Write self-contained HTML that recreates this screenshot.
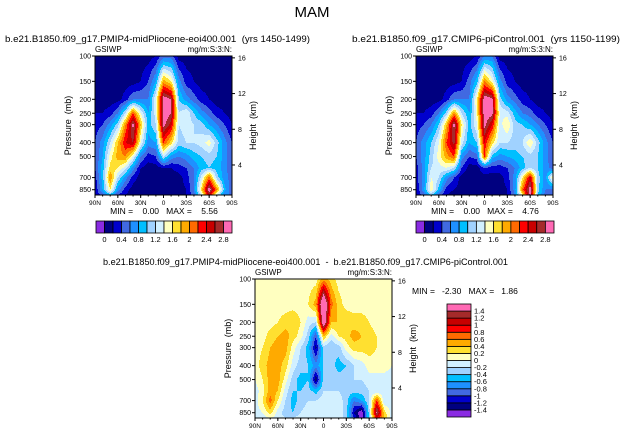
<!DOCTYPE html>
<html><head><meta charset="utf-8">
<style>
html,body{margin:0;padding:0;background:#fff;}
svg{display:block;font-family:"Liberation Sans",sans-serif;}
text{white-space:pre;}
</style></head>
<body>
<svg id="fig" width="624" height="435" viewBox="0 0 624 435" xmlns="http://www.w3.org/2000/svg">
<text x="312" y="17" text-anchor="middle" font-size="15">MAM</text>
</svg>
<script>
// ---- data ----
const lats = [90,80,70,60,50,40,30,20,10,0,-10,-20,-30,-40,-50,-60,-70,-80,-90];
const levels = [100,150,200,250,300,400,500,600,700,850,925];
const fieldPlio = [
[0.1,0.1,0.1,0.1,0.1,0.1,0.1,0.1,0.2,0.5,0.5,0.1,0.1,0.1,0.1,0.1,0.1,0.1,0.1],
[0.1,0.1,0.1,0.1,0.1,0.1,0.2,0.4,0.8,1.9,1.6,0.7,0.3,0.2,0.1,0.1,0.1,0.1,0.1],
[0.1,0.1,0.1,0.1,0.3,0.6,0.6,0.6,1.4,3.0,2.8,1.0,0.7,0.5,0.3,0.2,0.1,0.1,0.1],
[0.2,0.2,0.3,0.6,1.2,2.2,1.4,0.8,1.3,3.0,2.8,1.2,1.4,1.0,0.7,0.5,0.3,0.2,0.1],
[0.3,0.4,0.7,1.1,2.0,2.9,1.8,0.9,1.2,2.9,2.5,1.2,1.3,1.2,1.1,0.8,0.6,0.4,0.2],
[0.4,0.7,1.2,1.8,2.4,2.6,1.4,0.7,0.8,2.2,1.7,1.1,1.2,1.2,1.3,1.5,1.1,0.7,0.4],
[0.4,0.8,1.5,1.9,2.0,1.4,0.6,0.3,0.4,1.2,0.7,0.6,0.7,0.9,1.0,1.1,1.0,0.7,0.4],
[0.4,0.9,1.7,1.6,1.3,0.7,0.2,0.1,0.1,0.2,0.2,0.3,0.4,0.6,0.9,1.0,0.9,0.7,0.4],
[0.3,0.9,2.0,1.2,0.7,0.3,0.1,0.1,0.1,0.1,0.1,0.1,0.3,0.6,1.3,2.1,1.1,0.7,0.5],
[0.2,0.8,1.6,0.7,0.3,0.1,0.1,0.1,0.1,0.1,0.1,0.1,0.2,0.6,1.7,3.0,2.0,0.9,0.4],
[0.2,0.5,0.9,0.4,0.2,0.1,0.1,0.1,0.1,0.1,0.1,0.1,0.2,0.5,1.3,2.6,1.3,0.6,0.6]];
const fieldPI = [
[0.1,0.1,0.1,0.1,0.1,0.1,0.1,0.1,0.2,0.6,0.6,0.1,0.1,0.1,0.1,0.1,0.1,0.1,0.1],
[0.1,0.1,0.1,0.1,0.1,0.1,0.2,0.5,0.9,2.0,1.5,0.7,0.3,0.2,0.1,0.1,0.1,0.1,0.1],
[0.1,0.1,0.1,0.1,0.3,0.6,0.6,0.6,1.6,3.0,2.9,1.1,0.7,0.5,0.3,0.2,0.1,0.1,0.1],
[0.2,0.2,0.3,0.6,1.1,2.0,1.2,0.8,1.5,3.0,2.9,1.4,1.3,0.9,0.6,0.5,0.3,0.2,0.1],
[0.3,0.4,0.6,1.0,1.8,2.9,1.6,0.9,1.4,2.9,2.4,1.3,1.6,1.1,1.0,0.8,0.6,0.4,0.2],
[0.4,0.7,1.0,1.4,2.2,2.7,1.3,0.8,1.0,2.4,1.7,1.2,1.2,1.1,1.2,1.6,1.1,0.7,0.4],
[0.4,0.7,1.1,1.5,1.9,2.2,0.7,0.4,0.5,2.2,0.9,0.7,0.8,0.9,1.0,1.1,1.0,0.7,0.4],
[0.3,0.7,1.2,1.3,1.4,1.2,0.4,0.1,0.1,0.4,0.3,0.3,0.4,0.6,0.9,1.2,1.0,0.7,0.5],
[0.3,0.7,1.4,1.2,0.7,0.4,0.1,0.1,0.1,0.1,0.1,0.1,0.3,0.7,1.6,2.5,1.1,0.7,1.6],
[0.2,0.7,1.6,0.9,0.3,0.2,0.1,0.1,0.1,0.1,0.1,0.1,0.2,0.7,2.1,3.0,1.1,0.6,0.5],
[0.2,0.5,1.0,0.5,0.2,0.1,0.1,0.1,0.1,0.1,0.1,0.1,0.2,0.6,1.6,2.9,1.0,0.5,0.4]];
const fieldDiff = [
[0.1,0.1,0.1,0.1,0.1,0.1,0.1,0.1,0.1,0.5,0.3,0.1,0.1,0.1,0.1,0.1,0.1,0.1,0.1],
[0.1,0.1,0.1,0.1,0.1,0.1,0.1,0.2,0.5,2.0,0.7,0.3,0.1,0.1,0.1,0.1,0.1,0.1,0.1],
[0.1,0.1,0.1,0.2,0.3,0.4,0.2,-0.1,-0.2,1.8,0.4,0.4,0.4,0.3,0.3,0.2,0.1,0.1,0.1],
[0.1,0.1,0.3,0.4,0.5,0.3,0.1,-0.3,-1.0,0.4,-0.1,0.2,0.3,0.5,0.4,0.3,0.2,0.1,0.1],
[0.1,0.2,0.4,0.5,0.5,0.1,-0.2,-0.5,-1.3,-0.3,-0.4,-0.3,0.1,0.3,0.3,0.3,0.2,0.1,0.1],
[0.1,0.3,0.5,0.5,0.3,-0.1,-0.3,-0.4,-0.7,-0.4,-0.3,-0.5,-0.4,-0.2,-0.1,0.1,0.1,0.1,0.0],
[0.0,0.2,0.5,0.5,0.1,-0.3,-0.5,-0.4,-1.4,-0.3,-0.2,-0.3,-0.3,-0.2,-0.2,-0.1,-0.1,-0.1,-0.1],
[-0.1,0.1,0.5,0.4,-0.1,-0.4,-0.4,-0.3,-0.5,-0.2,-0.2,-0.2,-0.3,-0.3,-0.3,-0.2,-0.2,-0.1,-0.1],
[-0.1,0.2,0.7,0.2,-0.2,-0.5,-0.3,-0.2,-0.2,-0.1,-0.1,-0.1,-0.3,-0.8,-0.6,-0.2,0.8,-0.2,-0.1],
[-0.1,0.0,0.3,-0.1,-0.3,-0.4,-0.2,-0.1,-0.1,-0.1,-0.1,-0.1,-0.3,-1.2,-1.6,-0.3,1.5,0.3,-0.1],
[-0.1,-0.1,0.0,-0.1,-0.2,-0.2,-0.1,-0.1,-0.1,-0.1,-0.1,-0.1,-0.3,-1.0,-1.6,-0.3,1.0,0.4,-0.1]];
const absLevels = [0,0.2,0.4,0.6,0.8,1.0,1.2,1.4,1.6,1.8,2.0,2.2,2.4,2.6,2.8];
const absLabels = ["0","0.4","0.8","1.2","1.6","2","2.4","2.8"];
const diffLevels = [-1.4,-1.2,-1,-0.8,-0.6,-0.4,-0.2,0,0.2,0.4,0.6,0.8,1,1.2,1.4];
const diffLabels = ["-1.4","-1.2","-1","-0.8","-0.6","-0.4","-0.2","0","0.2","0.4","0.6","0.8","1","1.2","1.4"];
const pTicks = [100,150,200,250,300,400,500,700,850];
const zTicks = [4,8,12,16];
const latTicks = [90,60,30,0,-30,-60,-90];
const latTickLabels = ["90N","60N","30N","0","30S","60S","90S"];
const colors = ["#8a2be2","#000080","#0000cd","#4169e1","#1e90ff","#00bfff","#a0d2ff","#d2f0ff","#ffffc0","#ffe030","#ffaa00","#ff6a00","#ff0000","#c80000","#a52a2a","#ff69b4"];

const NS="http://www.w3.org/2000/svg";
const svg=document.getElementById('fig');
function mk(tag,attrs,parent,txt){const e=document.createElementNS(NS,tag);for(const k in attrs)e.setAttribute(k,attrs[k]);if(txt!==undefined)e.textContent=txt;(parent||svg).appendChild(e);return e;}
function colorFor(v,lv){let i=0;while(i<lv.length&&v>=lv[i])i++;return colors[i];}

function panel(name,x0,y0,field,lv,title,titleX,titleAnchor,titleLen){
  const W=137,H=139,pBot=925;
  const g=mk('g',{});
  
  
  const lp0=Math.log10(100),lp1=Math.log10(pBot);
  const xs=lat=>x0+(90-lat)/180*W;
  const ys=p=>y0+(Math.log10(p)-lp0)/(lp1-lp0)*H;
  function sample(lat,p){
    let fi=(90-lat)/10;fi=Math.max(0,Math.min(lats.length-1.0001,fi));
    const i=Math.floor(fi),tx=fi-i;
    let j=0;while(j<levels.length-2&&p>levels[j+1])j++;
    let ty=(Math.log10(p)-Math.log10(levels[j]))/(Math.log10(levels[j+1])-Math.log10(levels[j]));
    ty=Math.max(0,Math.min(1,ty));
    const a=field[j][i],b=field[j][i+1],c=field[j+1][i],d=field[j+1][i+1];
    return (a*(1-tx)+b*tx)*(1-ty)+(c*(1-tx)+d*tx)*ty;
  }
  const cg=mk('g',{},g);
  
  
  const step=1;
  for(let py=0;py<H;py+=step){
    const p=Math.pow(10,lp0+(py+step/2)/H*(lp1-lp0));
    let runStart=0,runCol=null;
    for(let px=0;px<=W;px+=step){
      let col=null;
      if(px<W){const lat=90-(px+step/2)/W*180;col=colorFor(sample(lat,p),lv);}
      if(col!==runCol){
        if(runCol!==null){const r=mk('rect',{x:x0+runStart,y:y0+py,width:px-runStart+0.3,height:step+0.3,fill:runCol},cg);
          
          }
        runStart=px;runCol=col;
      }
    }
  }
  const fr=mk('rect',{x:x0,y:y0,width:W,height:H,fill:'none',stroke:'#000','stroke-width':1},g);
  
  pTicks.forEach(p=>{const y=ys(p);
    mk('line',{x1:x0-3,x2:x0,y1:y,y2:y,stroke:'#000','stroke-width':1},g);
    const t=mk('text',{x:x0-4,y:y+2.5,'font-size':7,'text-anchor':'end'},g,String(p));
    });
  zTicks.forEach(z=>{const y=ys(1013*Math.exp(-z/7));
    mk('line',{x1:x0+W,x2:x0+W+3,y1:y,y2:y,stroke:'#000','stroke-width':1},g);
    const t=mk('text',{x:x0+W+6,y:y+2.5,'font-size':7},g,String(z));
    });
  latTicks.forEach((l,k)=>{const x=xs(l);
    mk('line',{x1:x,x2:x,y1:y0+H,y2:y0+H+3,stroke:'#000','stroke-width':1},g);
    const t=mk('text',{x:x,y:y0+H+10,'font-size':6.5,'text-anchor':'middle'},g,latTickLabels[k]);
    });
  for(let l=80;l>-90;l-=10){const x=xs(l);mk('line',{x1:x,x2:x,y1:y0+H,y2:y0+H+1.5,stroke:'#000'},g);}
  const yt=mk('text',{x:0,y:0,'font-size':9,'text-anchor':'middle',transform:`translate(${x0-24},${y0+H/2}) rotate(-90)`},g,'Pressure  (mb)');
  
  const yt2=mk('text',{x:0,y:0,'font-size':9,'text-anchor':'middle',transform:`translate(${x0+W+24},${y0+H/2}) rotate(-90)`},g,'Height  (km)');
  
  const l1=mk('text',{x:x0,y:y0-4,'font-size':8},g,'GSIWP');
  
  const l2=mk('text',{x:x0+W,y:y0-4,'font-size':8,'text-anchor':'end'},g,'mg/m:S:3:N:');
  
  const tt=mk('text',{x:titleX,y:y0-14,'font-size':9,'text-anchor':titleAnchor,textLength:titleLen,lengthAdjust:'spacingAndGlyphs'},g,title);
  
  return g;
}
function hbar(name,x0,y0,w,h,labels){
  const g=mk('g',{});
  const bw=w/16;
  colors.forEach((c,i)=>{const r=mk('rect',{x:x0+i*bw,y:y0,width:bw,height:h,fill:c,stroke:'#000','stroke-width':0.8},g);
    });
  labels.forEach((s,k)=>{const t=mk('text',{x:x0+(1+2*k)*bw,y:y0+h+9,'font-size':7.5,'text-anchor':'middle'},g,s);
    });
}
function vbar(name,x0,y0,w,h,labels){
  const g=mk('g',{});
  const bh=h/16;
  colors.forEach((c,i)=>{const r=mk('rect',{x:x0,y:y0+(15-i)*bh,width:w,height:bh,fill:c,stroke:'#000','stroke-width':0.8},g);
    });
  labels.forEach((s,k)=>{const t=mk('text',{x:x0+w+3,y:y0+(15-(k+1))*bh+bh+2.5,'font-size':7.5},g,s);
    });
}
function txt(name,x,y,s,anchor){const t=mk('text',{x:x,y:y,'font-size':8.5,'text-anchor':anchor||'start'},svg,s);
  }

panel('panel-midpliocene',95,56,fieldPlio,absLevels,'b.e21.B1850.f09_g17.PMIP4-midPliocene-eoi400.001  (yrs 1450-1499)',5,'start',305);
panel('panel-picontrol',416,56,fieldPI,absLevels,'b.e21.B1850.f09_g17.CMIP6-piControl.001  (yrs 1150-1199)',352,'start',268);
panel('panel-difference',255,279,fieldDiff,diffLevels,'b.e21.B1850.f09_g17.PMIP4-midPliocene-eoi400.001  -  b.e21.B1850.f09_g17.CMIP6-piControl.001',103,'start',405);
txt('minmax-left',164,214,'MIN =    0.00   MAX =    5.56','middle');
txt('minmax-right',485,214,'MIN =    0.00   MAX =    4.76','middle');
txt('minmax-diff',412,294,'MIN =   -2.30   MAX =   1.86','start');
hbar('colorbar-left',96,221,136,12,absLabels);
hbar('colorbar-right',416,221,138,12,absLabels);
vbar('colorbar-diff',447,304,24,113,diffLabels);
</script>
</body></html>
